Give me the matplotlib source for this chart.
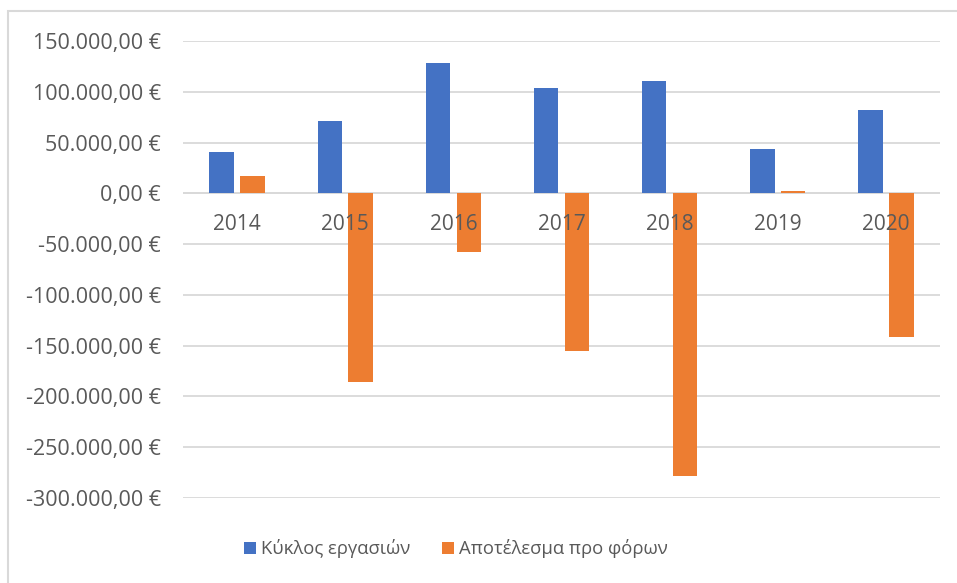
import matplotlib
matplotlib.use("Agg")
import matplotlib.pyplot as plt
from matplotlib.patches import Rectangle
from matplotlib.ticker import FuncFormatter
from matplotlib.transforms import offset_copy
import numpy as np

plt.rcParams['font.family'] = ['Open Sans', 'DejaVu Sans']

years = ["2014", "2015", "2016", "2017", "2018", "2019", "2020"]
turnover = [41000, 70800, 128500, 104200, 110800, 44000, 81600]
profit_before_tax = [17400, -185500, -58000, -155400, -278600, 2000, -141300]
series_names = ["Κύκλος εργασιών", "Αποτέλεσμα προ φόρων"]

W, H = 957, 583
fig = plt.figure(figsize=(W / 100, H / 100), dpi=100)
fig.patch.set_facecolor("white")

# chart-area border (left and top edges visible)
fig.add_artist(Rectangle((8 / W, -0.1), 1.2, 1 - 11 / H + 0.1, transform=fig.transFigure,
                         fill=False, edgecolor="#d9d9d9", linewidth=1.5))

left, right, top, bottom = 183, 940, 41, 498
ax = fig.add_axes([left / W, 1 - bottom / H, (right - left) / W, (bottom - top) / H])

x = np.arange(len(years))
bw = 0.226
off = 0.143
text_col = "#595959"

ax.bar(x - off, turnover, bw, color="#4472C4", label=series_names[0], zorder=3)
ax.bar(x + off, profit_before_tax, bw, color="#ED7D31", label=series_names[1], zorder=3)

ax.set_xlim(-0.5, len(years) - 0.5)
ax.set_ylim(-300000, 150000)
ax.set_yticks(np.arange(-300000, 150001, 50000))


def euro(v, pos):
    s = f"{abs(v):,.2f}".replace(",", "X").replace(".", ",").replace("X", ".")
    return ("-" if v < 0 else "") + s + " €"


ax.yaxis.set_major_formatter(FuncFormatter(euro))
ax.grid(axis="y", color="#d9d9d9", linewidth=1.3, zorder=0)
ax.set_axisbelow(True)
for s in ["top", "right", "left", "bottom"]:
    ax.spines[s].set_visible(False)
ax.axhline(0, color="#d9d9d9", linewidth=1.3, zorder=1)
ax.set_xticks([])
ax.tick_params(axis="y", length=0, pad=16, labelsize=15.5, labelcolor=text_col)

# category labels drawn on top of the bars, just below the zero line
trans = offset_copy(ax.transData, fig=fig, x=0, y=-31, units="dots")
for xi, lab in zip(x, years):
    ax.text(xi, 0, lab, transform=trans, ha="center", va="center",
            fontsize=15, color=text_col, zorder=5)

leg = fig.legend(loc="center", bbox_to_anchor=(456 / W, 1 - 549 / H), ncol=2,
                 frameon=False, fontsize=13.3, handlelength=0.65, handleheight=0.65,
                 handletextpad=0.3, columnspacing=1.7, labelcolor=text_col)

fig.savefig("out.png", dpi=100, facecolor="white")
